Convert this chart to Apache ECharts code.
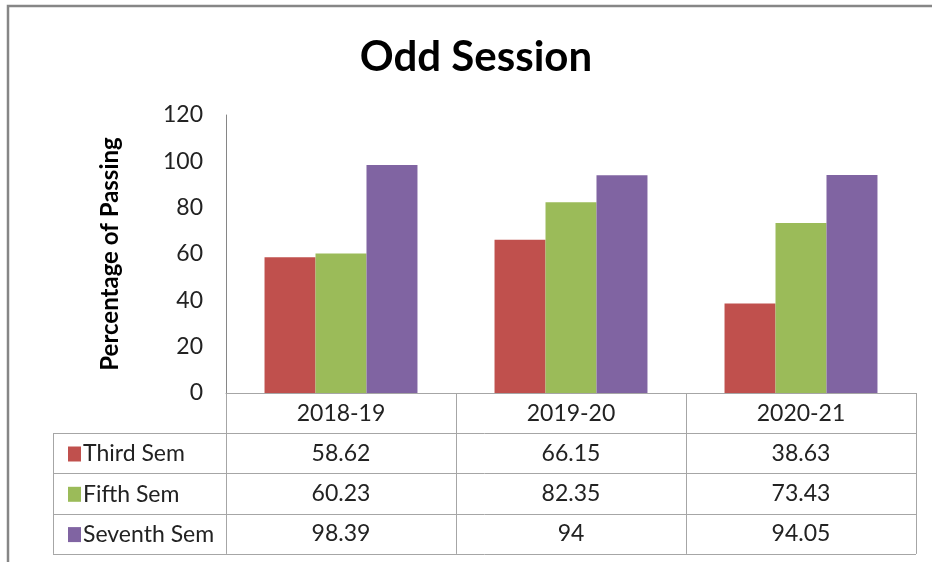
<!DOCTYPE html>
<html>
<head>
<meta charset="utf-8">
<title>Odd Session</title>
<script src="https://cdn.jsdelivr.net/npm/echarts@6/dist/echarts.min.js"></script>
<style>
  html, body { margin: 0; padding: 0; background: #fff; }
  #chart { width: 932px; height: 562px; }
</style>
</head>
<body>
<div id="chart"></div>
<script>
// data
const sessions = ['2018-19', '2019-20', '2020-21'];
const semesters = ['Third Sem', 'Fifth Sem', 'Seventh Sem'];
const thirdSem = [58.62, 66.15, 38.63];
const fifthSem = [60.23, 82.35, 73.43];
const seventhSem = [98.39, 94, 94.05];
const yTicks = { min: 0, max: 120, interval: 20 };

const colors = ['#C0504D', '#9BBB59', '#8064A2'];
const font = 'Lato, "Open Sans", sans-serif';
const fs = 23;

// plot area + data table geometry
const plotLeft = 226, plotRight = 916, plotTop = 115, plotBottom = 393;
const tableLeft = 53, rowH = 40.3, headerH = 40;
const lineColor = '#a6a6a6';

const allValues = [thirdSem, fifthSem, seventhSem];

function tableGraphics() {
  const g = [];
  const colW = (plotRight - plotLeft) / sessions.length;
  const bodyTop = plotBottom + headerH;
  const tableBottom = bodyTop + rowH * semesters.length;
  // horizontal lines
  for (let r = 0; r <= semesters.length; r++) {
    const y = Math.round(bodyTop + r * rowH) + 0.5;
    g.push({ type: 'line', shape: { x1: tableLeft, y1: y, x2: plotRight, y2: y },
      style: { stroke: lineColor, lineWidth: 1 } });
  }
  // vertical lines
  g.push({ type: 'line', shape: { x1: tableLeft + 0.5, y1: bodyTop, x2: tableLeft + 0.5, y2: tableBottom },
    style: { stroke: lineColor, lineWidth: 1 } });
  for (let c = 0; c <= sessions.length; c++) {
    const x = Math.round(plotLeft + c * colW) + 0.5;
    g.push({ type: 'line', shape: { x1: x, y1: plotBottom, x2: x, y2: tableBottom },
      style: { stroke: lineColor, lineWidth: 1 } });
  }
  // values
  allValues.forEach((vals, r) => {
    vals.forEach((v, c) => {
      g.push({ type: 'text', x: plotLeft + (c + 0.5) * colW, y: bodyTop + (r + 0.5) * rowH,
        style: { text: String(v), font: fs + 'px ' + font, fill: '#222',
          textAlign: 'center', textVerticalAlign: 'middle' } });
    });
  });
  // outer border of chart area
  g.push({ type: 'rect', shape: { x: 8, y: 6, width: 1200, height: 1000 },
    style: { fill: 'none', stroke: '#868686', lineWidth: 2.5 }, z: 10 });
  return g;
}

const chart = echarts.init(document.getElementById('chart'));
chart.setOption({
  backgroundColor: '#fff',
  animation: false,
  color: colors,
  title: {
    text: 'Odd Session',
    left: 471, top: 31, textAlign: 'center',
    textStyle: { fontFamily: font, fontWeight: 'bold', fontSize: 42, color: '#000' }
  },
  legend: {
    orient: 'vertical',
    left: 63, top: plotBottom + headerH + 4,
    itemGap: rowH - 24,
    itemWidth: 13, itemHeight: 15,
    icon: 'rect',
    selectedMode: false,
    textStyle: { fontFamily: font, fontSize: fs, color: '#222', lineHeight: 24, padding: [0, 0, 0, -3] },
    data: semesters
  },
  grid: {
    left: plotLeft, top: plotTop,
    right: 932 - plotRight, bottom: 562 - plotBottom,
    containLabel: false
  },
  xAxis: {
    type: 'category',
    data: sessions,
    axisLine: { lineStyle: { color: lineColor, width: 1 } },
    axisTick: { show: false },
    axisLabel: { fontFamily: font, fontSize: fs, color: '#222', margin: 9 }
  },
  yAxis: {
    type: 'value',
    min: yTicks.min, max: yTicks.max, interval: yTicks.interval,
    name: 'Percentage of Passing',
    nameLocation: 'middle',
    nameGap: 104,
    nameTextStyle: { fontFamily: font, fontWeight: 'bold', fontSize: 24, color: '#000' },
    axisLine: { show: true, lineStyle: { color: '#868686', width: 1 } },
    axisTick: { show: false },
    splitLine: { show: false },
    axisLabel: { fontFamily: font, fontSize: fs, color: '#222', margin: 23 }
  },
  series: [
    { name: semesters[0], type: 'bar', data: thirdSem, barGap: '0%', barCategoryGap: '33.5%' },
    { name: semesters[1], type: 'bar', data: fifthSem, barGap: '0%', barCategoryGap: '33.5%' },
    { name: semesters[2], type: 'bar', data: seventhSem, barGap: '0%', barCategoryGap: '33.5%' }
  ],
  graphic: tableGraphics()
});
</script>
</body>
</html>
